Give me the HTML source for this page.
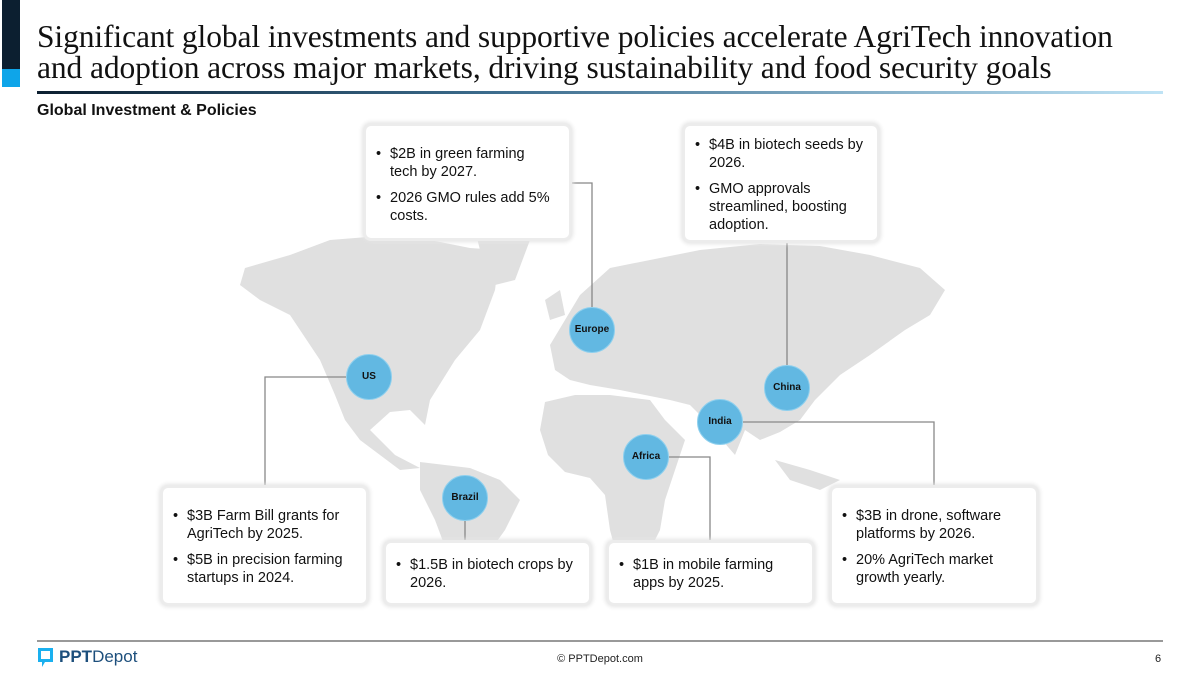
<!DOCTYPE html>
<html><head><meta charset="utf-8"><style>
body{margin:0;width:1200px;height:677px;background:#fff;position:relative;overflow:hidden;font-family:"Liberation Sans",sans-serif}
.abs{position:absolute}
.title{left:37px;top:21px;font-family:"Liberation Serif",serif;font-size:31.5px;line-height:31px;color:#111;white-space:nowrap;letter-spacing:-0.1px}
.box{position:absolute;background:#fff;border-radius:5px;box-shadow:0 0 0 3px #ececec,0 0 4px 4px #e4e4e4;font-size:14.5px;line-height:18px;color:#111;box-sizing:border-box;padding:14px 22px 0 24px}
.box p{margin:0 0 8px 0;position:relative}
.box p:before{content:"•";position:absolute;left:-14px}
.c{position:absolute;width:46px;height:46px;border-radius:50%;background:#62b8e2;border:1px solid #8fd0ee;box-sizing:border-box;font-size:10px;font-weight:bold;color:#111;text-align:center;line-height:44px}
</style></head><body>
<div class="abs" style="left:2px;top:0;width:18px;height:69px;background:#0c1f30"></div>
<div class="abs" style="left:2px;top:69px;width:18px;height:18px;background:#0ea5e9"></div>
<div class="abs title">Significant global investments and supportive policies accelerate AgriTech innovation<br>and adoption across major markets, driving sustainability and food security goals</div>
<div class="abs" style="left:37px;top:91px;width:1126px;height:3px;background:linear-gradient(90deg,#0c1f30,#3b6b8c 40%,#bfe3f5)"></div>
<div class="abs" style="left:37px;top:102px;font-size:16px;font-weight:bold;color:#111">Global Investment &amp; Policies</div>

<svg class="abs" style="left:0;top:0" width="1200" height="677">
<g fill="#e0e0e0">
<polygon points="245,268 290,255 330,240 380,236 430,240 470,248 500,250 495,290 480,330 455,360 430,400 425,425 410,410 390,412 370,430 395,455 420,468 400,470 360,440 345,420 335,395 320,360 290,315 260,300 240,285"/>
<polygon points="470,210 505,198 545,200 530,240 515,280 495,285 480,250"/>
<polygon points="420,462 470,468 500,480 520,500 505,530 480,565 465,600 455,600 450,560 435,520 420,490"/>
<polygon points="550,345 565,320 580,295 610,268 660,258 700,250 760,244 820,246 870,255 920,268 945,290 930,315 905,330 870,355 840,375 815,400 800,420 780,432 760,440 745,430 735,455 722,440 705,420 690,405 670,400 645,395 620,390 590,385 570,380 555,370"/>
<polygon points="545,402 575,395 610,395 650,400 665,420 685,440 675,470 665,500 660,530 645,560 628,572 618,560 610,530 605,495 590,478 565,472 548,455 540,430"/>
<polygon points="830,515 860,495 885,490 905,505 915,540 900,565 875,565 850,555 830,550"/>
<polygon points="775,460 810,470 840,480 820,490 790,480"/>
<polygon points="545,300 560,290 565,315 550,320"/>
</g>
<g stroke="#888" stroke-width="1.3" fill="none">
<polyline points="569,183 592,183 592,310"/>
<polyline points="787,240 787,368"/>
<polyline points="348,377 265,377 265,489"/>
<polyline points="465,519 465,543"/>
<polyline points="667,457 710,457 710,543"/>
<polyline points="741,422 934,422 934,489"/>
</g>
<line x1="37" y1="641" x2="1163" y2="641" stroke="#333" stroke-width="1"/>
<path d="M38,648 h15 v14 h-8 l-3,5 v-5 h-4z" fill="#1ab0ef"/>
<rect x="41" y="651" width="9" height="8" fill="#fff"/>
</svg>

<div class="box" style="left:366px;top:126px;width:203px;height:112px;padding-top:19px;padding-right:16px"><p>$2B in green farming tech by 2027.</p><p>2026 GMO rules add 5% costs.</p></div>
<div class="box" style="left:685px;top:126px;width:192px;height:114px;padding-top:10px;padding-right:8px"><p>$4B in biotech seeds by 2026.</p><p>GMO approvals streamlined, boosting adoption.</p></div>
<div class="box" style="left:163px;top:488px;width:203px;height:115px;padding-top:19px"><p>$3B Farm Bill grants for AgriTech by 2025.</p><p>$5B in precision farming startups in 2024.</p></div>
<div class="box" style="left:386px;top:543px;width:203px;height:60px;padding-top:13px;padding-right:10px"><p>$1.5B in biotech crops by 2026.</p></div>
<div class="box" style="left:609px;top:543px;width:203px;height:60px;padding-top:13px"><p>$1B in mobile farming apps by 2025.</p></div>
<div class="box" style="left:832px;top:488px;width:204px;height:115px;padding-top:19px"><p>$3B in drone, software platforms by 2026.</p><p>20% AgriTech market growth yearly.</p></div>

<div class="c" style="left:569px;top:307px">Europe</div>
<div class="c" style="left:346px;top:354px">US</div>
<div class="c" style="left:764px;top:365px">China</div>
<div class="c" style="left:697px;top:399px">India</div>
<div class="c" style="left:623px;top:434px">Africa</div>
<div class="c" style="left:442px;top:475px">Brazil</div>

<div class="abs" style="left:59px;top:647px;font-size:17px;color:#1d4f7c"><b>PPT</b>Depot</div>
<div class="abs" style="left:0;width:1200px;top:653px;text-align:center;font-size:11px;color:#222">© PPTDepot.com</div>
<div class="abs" style="left:1155px;top:653px;font-size:11px;color:#222">6</div>
</body></html>
